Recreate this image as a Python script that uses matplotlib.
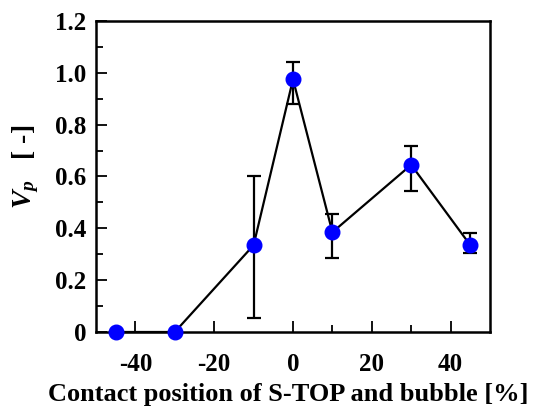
import matplotlib
matplotlib.use("Agg")
import matplotlib.pyplot as plt
from matplotlib.ticker import MultipleLocator, FixedLocator

positions = [-45, -30, -10, 0, 10, 30, 45]
vp = [0.0, 0.0, 0.335, 0.975, 0.385, 0.645, 0.335]
err_low = [0.0, 0.0, 0.28, 0.095, 0.10, 0.10, 0.03]
err_high = [0.0, 0.0, 0.265, 0.065, 0.07, 0.072, 0.048]

x_ticks = [-40, -20, 0, 20, 40]
y_ticks = [0, 0.2, 0.4, 0.6, 0.8, 1.0, 1.2]
y_tick_labels = ["0", "0.2", "0.4", "0.6", "0.8", "1.0", "1.2"]

plt.rcParams['font.family'] = ['Liberation Serif', 'DejaVu Serif']
plt.rcParams['font.weight'] = 'bold'
plt.rcParams['axes.unicode_minus'] = False
plt.rcParams['mathtext.fontset'] = 'custom'
plt.rcParams['mathtext.rm'] = 'Liberation Serif:bold'
plt.rcParams['mathtext.it'] = 'Liberation Serif:bold:italic'
plt.rcParams['mathtext.bf'] = 'Liberation Serif:bold'

fig = plt.figure(figsize=(5.36, 4.07), dpi=100)
ax = fig.add_axes([96/536, 1-332/407, (490-96)/536, (332-21)/407])

ax.errorbar(positions, vp, yerr=[err_low, err_high], fmt='none', ecolor='black',
            elinewidth=1.6, capsize=5, capthick=1.6, zorder=2)
ax.plot(positions, vp, color='black', lw=1.6, zorder=3, clip_on=False)
ax.plot(positions, vp, 'o', color='#0000ff', ms=10.5, zorder=4, clip_on=False)

ax.set_xlim(-50, 50)
ax.set_ylim(0, 1.2)
ax.xaxis.set_major_locator(FixedLocator(x_ticks))
ax.xaxis.set_minor_locator(FixedLocator([10, 30]))
ax.set_yticks(y_ticks)
ax.set_yticklabels(y_tick_labels)
ax.yaxis.set_minor_locator(MultipleLocator(0.1))
ax.tick_params(which='both', direction='in', top=False, right=False, width=1.3, labelsize=18)
ax.tick_params(which='major', length=8)
ax.tick_params(which='minor', length=5)
ax.tick_params(axis='x', pad=15)
ax.tick_params(axis='y', pad=7)
for lab in ax.get_xticklabels() + ax.get_yticklabels():
    lab.set_fontweight('bold')
for s in ax.spines.values():
    s.set_linewidth(1.8)

ax.set_xlabel("Contact position of S-TOP and bubble [%]", fontsize=19, fontweight='bold')
ax.xaxis.set_label_coords(0.487, -0.163)
ax.set_ylabel(r"$V_{\mathit{p}}$   [ -]", fontsize=20, fontweight='bold')
ax.yaxis.set_label_coords(-0.14, 0.53)

fig.savefig("out.png", dpi=100)
